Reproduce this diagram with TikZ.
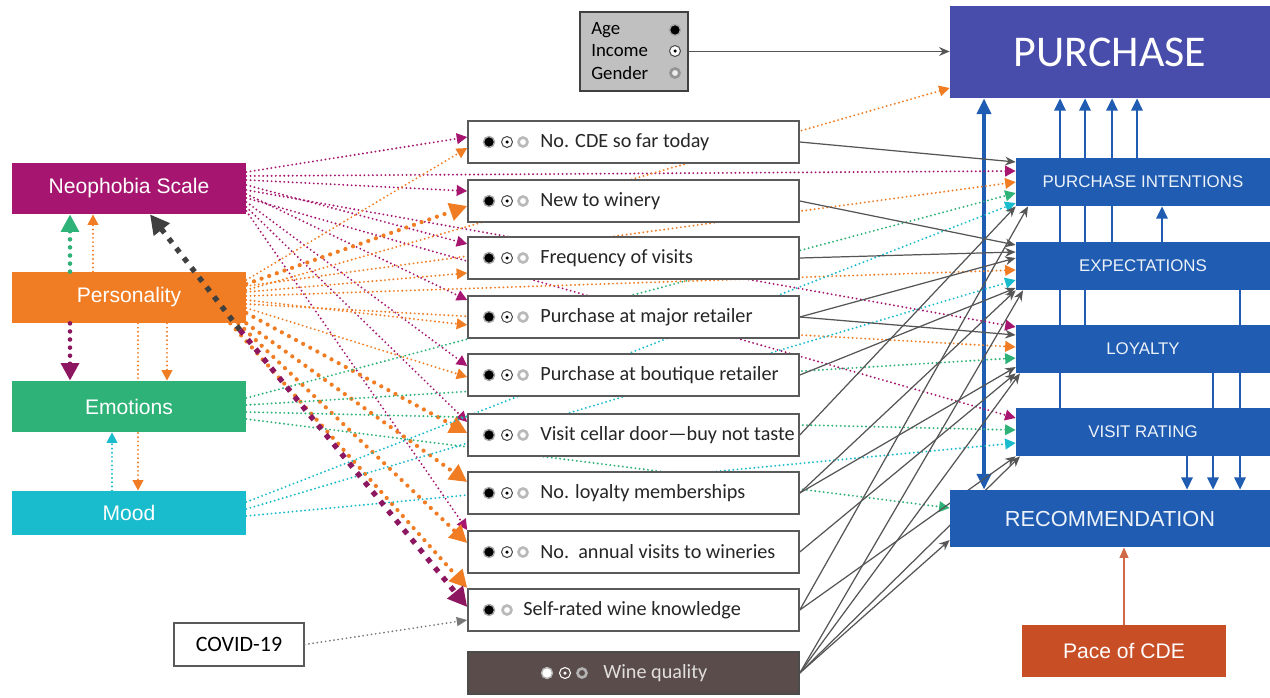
\documentclass[tikz,border=0pt]{standalone}
\usepackage{fontspec}
\setmainfont{Carlito}
\newfontfamily\arialf{Liberation Sans}
\usetikzlibrary{arrows.meta,backgrounds,calc}
\definecolor{cpur}{RGB}{72,76,170}
\definecolor{cblue}{RGB}{31,92,178}
\definecolor{cneo}{RGB}{166,22,112}
\definecolor{cneod}{RGB}{140,22,95}
\definecolor{cper}{RGB}{240,125,35}
\definecolor{cemo}{RGB}{46,178,120}
\definecolor{cmood}{RGB}{24,188,204}
\definecolor{cpace}{RGB}{200,78,38}
\definecolor{cwine}{RGB}{90,76,74}
\definecolor{cage}{RGB}{192,192,192}
\definecolor{cgl}{RGB}{85,85,85}
\definecolor{cbox}{RGB}{90,90,90}
\newcommand\bA[2]{\draw[gray!70,line width=0.8pt,fill=black] (#1,#2) circle[radius=0.11cm];}
\newcommand\bB[2]{\draw[black!70,line width=0.6pt,fill=white] (#1,#2) circle[radius=0.11cm]; \fill[black] (#1,#2) circle[radius=0.035cm];}
\newcommand\bC[2]{\draw[gray!55,line width=1.5pt,fill=white] (#1,#2) circle[radius=0.09cm];}
\begin{document}
\begin{tikzpicture}[x=0.02cm,y=-0.02cm,
 lbox/.style={draw=none, minimum width=4.68cm, minimum height=1.02cm, inner sep=0pt, font=\arialf\fontsize{12}{14}\selectfont, text=white},
 mbox/.style={draw=cbox, line width=0.9pt, fill=white, minimum width=6.62cm, minimum height=0.84cm, inner sep=0pt},
 mtxt/.style={anchor=west, inner sep=0pt, font=\fontsize{11.5}{13}\selectfont, text=black!85},
 rbox/.style={fill=cblue, minimum width=5.08cm, minimum height=0.96cm, inner sep=0pt, text=white!92!cblue, font=\arialf\fontsize{9.6}{11}\selectfont},
 dotl/.style={line width=1.2pt, dash pattern=on 0pt off 2.4pt, line cap=round, -{Triangle[length=6pt,width=6pt]}},
 dotk/.style={line width=2.4pt, dash pattern=on 0pt off 4.6pt, line cap=round, -{Triangle[length=10pt,width=10pt]}},
 gl/.style={draw=cgl, line width=0.7pt, -{Stealth[length=6pt,width=5pt]}},
 bl/.style={draw=cblue, line width=1.2pt, -{Triangle[length=7pt,width=6.5pt]}},
]
\useasboundingbox (0,0) rectangle (1270,697);
% left boxes
\node[lbox, fill=cneo] (neo) at (129,188.5) {Neophobia Scale};
\node[lbox, fill=cper] (pers) at (129,297.5) {Personality};
\node[lbox, fill=cemo] (emo) at (129,406.5) {Emotions};
\node[lbox, fill=cmood, minimum height=0.88cm] (mood) at (129,513) {Mood};
\node[draw=cbox, line width=0.9pt, fill=white, minimum width=2.6cm, minimum height=0.86cm, inner sep=0pt, font=\fontsize{12.5}{14}\selectfont] (covid) at (239,644.5) {COVID-19};
% age box
\node[draw=black!75, line width=1pt, fill=cage, minimum width=2.16cm, minimum height=1.58cm] (age) at (634,51.5) {};
\node[anchor=west, inner sep=0pt, font=\fontsize{10.7}{12}\selectfont] (agea) at (591,30) {Age};
\node[anchor=west, inner sep=0pt, font=\fontsize{10.7}{12}\selectfont] (agei) at (591,51) {Income};
\node[anchor=west, inner sep=0pt, font=\fontsize{10.7}{12}\selectfont] (ageg) at (591,73) {Gender};
\bA{675}{30}\bB{675}{51}
\draw[gray!85,line width=1.5pt,fill=white!85!gray] (675,73) circle[radius=0.09cm];
% middle boxes
\foreach \n/\y in {1/142,2/201,3/258,4/317,5/375,6/435,7/493,8/552,9/610}{\node[mbox] (m\n) at (633.5,\y) {};}
\node[mbox, fill=cwine, draw=black!70] (m10) at (633.5,673) {};
\node[mtxt] (t1) at (540,142) {No. CDE so far today};
\node[mtxt] (t2) at (540,201) {New to winery};
\node[mtxt] (t3) at (540,258) {Frequency of visits};
\node[mtxt] (t4) at (540,317) {Purchase at major retailer};
\node[mtxt] (t5) at (540,375) {Purchase at boutique retailer};
\node[mtxt] (t6) at (540,435) {Visit cellar door---buy not taste};
\node[mtxt] (t7) at (540,493) {No. loyalty memberships};
\node[mtxt] (t8) at (540,552) {No.\ \ annual visits to wineries};
\node[mtxt] (t9) at (523,610) {Self-rated wine knowledge};
\node[mtxt, text=white!82!cwine] (t10) at (603,673) {Wine quality};
\foreach \y in {142,201,258,317,375,435,493,552}{\bA{489}{\y}\bB{507}{\y}\bC{523}{\y}}
\bA{489}{610}\bC{507}{610}
\draw[gray!60,line width=0.8pt,fill=white] (547,673) circle[radius=0.11cm];
\draw[white!70,line width=0.6pt,fill=cwine] (565,673) circle[radius=0.11cm];
\fill[white!80] (565,673) circle[radius=0.035cm];
\draw[gray!60,line width=1.5pt,fill=cwine] (582,673) circle[radius=0.09cm];
% right boxes
\node[fill=cpur, minimum width=6.4cm, minimum height=1.84cm, inner sep=0pt, text=white, font=\fontsize{25}{30}\selectfont] (pur) at (1110,52) {PURCHASE};
\node[rbox] (pi) at (1143,182) {PURCHASE INTENTIONS};
\node[rbox] (exp) at (1143,266) {EXPECTATIONS};
\node[rbox] (loy) at (1143,349) {LOYALTY};
\node[rbox] (vr) at (1143,432) {VISIT RATING};
\node[rbox, minimum width=6.4cm, minimum height=1.14cm, font=\arialf\fontsize{12.4}{14}\selectfont] (rec) at (1110,518.5) {RECOMMENDATION};
\node[fill=cpace, minimum width=4.08cm, minimum height=1.04cm, inner sep=0pt, text=white, font=\arialf\fontsize{12}{14}\selectfont] (pace) at (1124,651) {Pace of CDE};

\begin{scope}[on background layer]
% blue structure
\draw[draw=cblue, line width=2.2pt, {Triangle[length=9pt,width=8pt]}-{Triangle[length=9pt,width=8pt]}] (pur.south -| 984,0) -- (rec.north -| 984,0);
\draw[bl] (vr.north -| 1060,0) -- (pur.south -| 1060,0);
\draw[bl] (loy.north -| 1085,0) -- (pur.south -| 1085,0);
\draw[bl] (exp.north -| 1112,0) -- (pur.south -| 1112,0);
\draw[bl] (pi.north -| 1137,0) -- (pur.south -| 1137,0);
\draw[bl] (exp.north -| 1162,0) -- (pi.south -| 1162,0);
\draw[bl] (exp.south -| 1240,0) -- (rec.north -| 1240,0);
\draw[bl] (loy.south -| 1213,0) -- (rec.north -| 1213,0);
\draw[bl] (vr.south -| 1187,0) -- (rec.north -| 1187,0);
% magenta
\draw[dotl, cneo] (neo.east |- 0,172) -- (m1.west |- 0,137);
\draw[dotl, cneo] (neo.east |- 0,176) -- (pi.west |- 0,171);
\draw[dotl, cneo] (neo.east |- 0,180) -- (m2.west |- 0,191);
\draw[dotl, cneo] (neo.east |- 0,185) -- (m3.west |- 0,244);
\draw[dotl, cneo] (neo.east |- 0,190) -- (loy.west |- 0,327);
\draw[dotl, cneo] (neo.east |- 0,194) -- (m4.west |- 0,300);
\draw[dotl, cneo] (neo.east |- 0,198) -- (vr.west |- 0,418);
\draw[dotl, cneo] (neo.east |- 0,202) -- (m5.west |- 0,366);
\draw[dotl, cneo] (neo.east |- 0,207) -- (m6.west |- 0,422);
\draw[dotl, cneo] (neo.east |- 0,211) -- (m8.west |- 0,530);
% orange thin
\draw[dotl, cper] (pers.east |- 0,280) -- (m1.west |- 0,148);
\draw[dotl, cper] (pers.east |- 0,290) -- (pur.west |- 0,88);
\draw[dotl, cper] (pers.east |- 0,286) -- (pi.west |- 0,182);
\draw[dotl, cper] (pers.east |- 0,292) -- (m3.west |- 0,273);
\draw[dotl, cper] (pers.east |- 0,296) -- (exp.west |- 0,270);
\draw[dotl, cper] (pers.east |- 0,300) -- (m4.west |- 0,325);
\draw[dotl, cper] (pers.east |- 0,304) -- (loy.west |- 0,347);
\draw[dotl, cper] (pers.east |- 0,308) -- (m5.west |- 0,377);
% orange thick
\draw[dotk, cper] (pers.east |- 0,284) -- (m2.west |- 0,206);
\draw[dotk, cper] (pers.east |- 0,313) -- (m6.west |- 0,433);
\draw[dotk, cper] (pers.south east) -- (m7.west |- 0,482);
\draw[dotk, cper] ($(pers.south east)+(-8,0)$) -- (m8.west |- 0,543);
\draw[dotk, cper] ($(pers.south east)+(-16,0)$) -- (m9.west |- 0,588);
% green
\draw[dotl, cemo] (emo.east |- 0,398) -- (pi.west |- 0,193);
\draw[dotl, cemo] (emo.east |- 0,405) -- (loy.west |- 0,358);
\draw[dotl, cemo] (emo.east |- 0,412) -- (vr.west |- 0,430);
\draw[dotl, cemo] (emo.east |- 0,419) -- (rec.west |- 0,508);
% cyan
\draw[dotl, cmood] (mood.east |- 0,502) -- (pi.west |- 0,203);
\draw[dotl, cmood] (mood.east |- 0,509) -- (exp.west |- 0,280);
\draw[dotl, cmood] (mood.east |- 0,516) -- (vr.west |- 0,443);
% vertical left links
\draw[dotl, cper] (pers.south -| 138,0) -- (mood.north -| 138,0);
% gray solid
\draw[gl] (m1.east) -- (pi.west |- 0,162);
\draw[gl] (m2.east) -- (exp.west |- 0,245);
\draw[gl] (m3.east) -- (exp.west |- 0,252);
\draw[gl] (m4.east) -- (exp.west |- 0,258);
\draw[gl] (m4.east) -- (loy.west |- 0,335);
\draw[gl] (m5.east) -- (exp.west |- 0,288);
\draw[gl] (m6.east) -- (pi.south west);
\draw[gl] (m7.east) -- (exp.south west);
\draw[gl] (m7.east) -- (loy.west |- 0,367);
\draw[gl] (m8.east) -- (loy.south west);
\draw[gl] (m9.east) -- (vr.south west);
\draw[gl] (m9.east) -- (pi.south -| 1028,0);
\draw[gl] (m10.east) -- (exp.south -| 1023,0);
\draw[gl] (m10.east) -- (loy.south -| 1020,0);
\draw[gl] (m10.east) -- (vr.south -| 1020,0);
\draw[gl] (m10.east) -- (rec.west |- 0,540);
\end{scope}
% left verticals
\draw[dotk, cemo, line width=2.6pt] (pers.north -| 70,0) -- (neo.south -| 70,0);
\draw[dotk, cneod, line width=2.6pt] (pers.south -| 70,0) -- (emo.north -| 70,0);
\draw[dotl, cper] (pers.north -| 93,0) -- (neo.south -| 93,0);
\draw[dotl, cper] (pers.south -| 167,0) -- (emo.north -| 167,0);
\draw[dotl, cmood] (mood.north -| 112,0) -- (emo.south -| 112,0);
% neophobia <-> self-rated
\coordinate (k) at (240,330);
\draw[line width=3pt, black!75, dash pattern=on 3pt off 4pt, -{Triangle[length=11pt,width=11pt]}] (k) -- (neo.south -| 150,0);
\draw[line width=3pt, cneod, dash pattern=on 3pt off 4pt, -{Triangle[length=11pt,width=11pt]}] (k) -- (m9.west |- 0,607);
% covid
\draw[line width=1.1pt, cgl!80, dash pattern=on 0pt off 2.4pt, line cap=round, -{Triangle[length=6pt,width=5pt]}] (covid.east) -- (m9.west |- 0,620);
% age, pace
\draw[gl, line width=0.9pt] (age.east) -- (pur.west |- age.east);
\draw[draw=cpace!85, line width=1pt, -{Triangle[length=6pt,width=5pt]}] (pace.north) -- (rec.south -| pace.north);
\end{tikzpicture}
\end{document}
